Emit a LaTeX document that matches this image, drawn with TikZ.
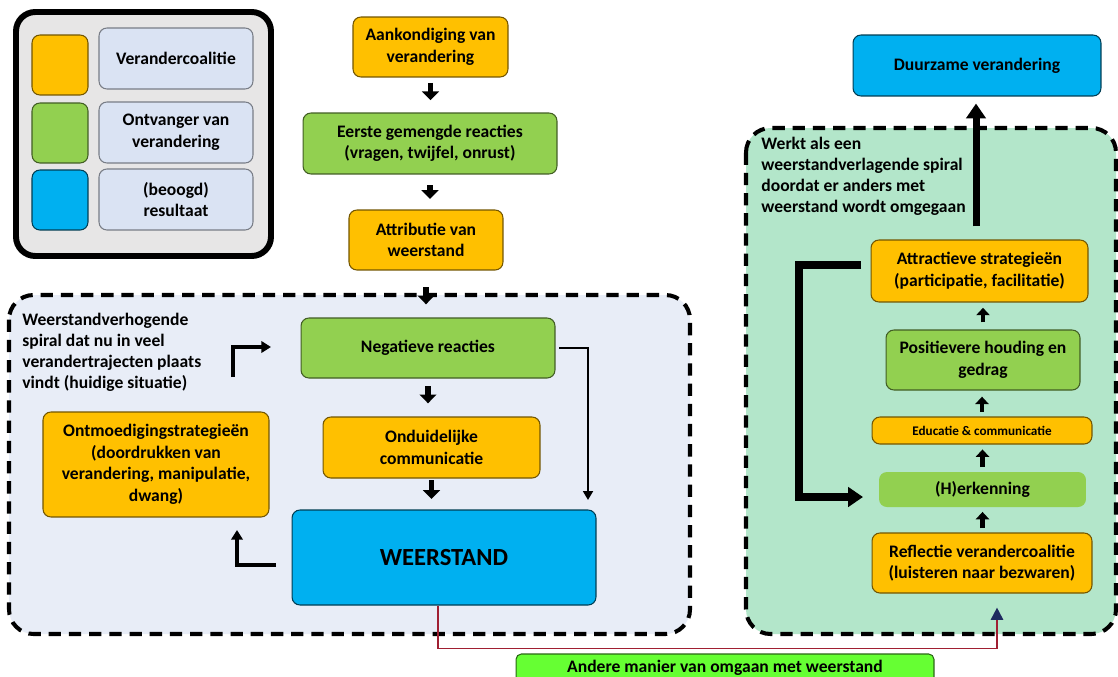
\documentclass[tikz,border=0pt]{standalone}
\usepackage{fontspec}
\setmainfont{Carlito}
\usetikzlibrary{arrows.meta,calc}
\definecolor{oranje}{HTML}{FFC000}
\definecolor{groen}{HTML}{92D050}
\definecolor{blauw}{HTML}{00B0F0}
\definecolor{legblauw}{HTML}{DAE3F3}
\definecolor{leggrijs}{HTML}{E7E6E6}
\definecolor{vlakblauw}{HTML}{E8EDF7}
\definecolor{vlakgroen}{HTML}{B3E6CA}
\definecolor{felgroen}{HTML}{66FF33}
\definecolor{donkerrood}{HTML}{A01F32}
\definecolor{marine}{HTML}{1F2A60}
\tikzset{
    box/.style={draw, rounded corners=4.5pt, line width=0.6pt, align=center, inner sep=2pt,
        font=\bfseries\fontsize{10}{12.3}\selectfont},
    oranjebox/.style={box, fill=oranje, draw=oranje!45!black},
    groenbox/.style={box, fill=groen, draw=groen!45!black},
    blauwbox/.style={box, fill=blauw, draw=blauw!35!black},
    legbox/.style={box, fill=legblauw, draw=legblauw!55!black},
    vlak/.style={line width=2.3pt, dash pattern=on 7pt off 4.5pt, rounded corners=14pt},
    vlaktekst/.style={anchor=north west, align=left, inner sep=0pt,
        font=\bfseries\fontsize{10}{12}\selectfont},
    blokpijl/.style={line width=3.4pt, -{Triangle[width=9.5pt,length=5pt]}},
    kleinpijl/.style={line width=2.8pt, -{Triangle[width=7.5pt,length=4.2pt]}},
    hoekpijl/.style={line width=2.5pt, -{Triangle[width=6.5pt,length=5.5pt]}},
    dunpijl/.style={line width=1.3pt, -{Triangle[width=5.5pt,length=5pt]}},
    dikpijl/.style={line width=4pt, -{Triangle[width=11pt,length=8.5pt]}},
    roodlijn/.style={line width=1.1pt, donkerrood, -{Triangle[width=7pt,length=7pt,color=marine]}}
}
\begin{document}
\begin{tikzpicture}[x=0.02cm,y=-0.02cm]
        \useasboundingbox (0,0) rectangle (1118,676);
        \clip (0,0) rectangle (1118,676);
        \draw[line width=3.4pt, rounded corners=11pt, fill=leggrijs] (16,12) rectangle (271,256);
        \draw[vlak, fill=vlakblauw] (9,295) rectangle (690,634);
        \draw[vlak, fill=vlakgroen] (746,128) rectangle (1116,634);

        \node[oranjebox, minimum width=1.12cm, minimum height=1.2cm] (legor) at (60,65) {};
        \node[groenbox, minimum width=1.12cm, minimum height=1.2cm] (leggr) at (60,133) {};
        \node[blauwbox, minimum width=1.12cm, minimum height=1.2cm] (legbl) at (60,200) {};
        \node[legbox, minimum width=3.08cm, minimum height=1.22cm] (legt1) at (176,58.5) {Verandercoalitie};
        \node[legbox, minimum width=3.08cm, minimum height=1.22cm] (legt2) at (176,132.5) {Ontvanger van\\verandering};
        \node[legbox, minimum width=3.08cm, minimum height=1.22cm] (legt3) at (176,199.5) {(beoogd)\\resultaat};

        \node[oranjebox, minimum width=3.1cm, minimum height=1.2cm] (aank) at (430.5,47) {Aankondiging van\\verandering};
        \node[groenbox, minimum width=5.08cm, minimum height=1.22cm] (eerste) at (430,143.5) {Eerste gemengde reacties\\(vragen, twijfel, onrust)};
        \node[oranjebox, minimum width=3.08cm, minimum height=1.2cm] (attr) at (426,240) {Attributie van\\weerstand};

        \node[vlaktekst] (tekstlinks) at (22,313) {Weerstandverhogende\\spiral dat nu in veel\\verandertrajecten plaats\\vindt (huidige situatie)};
        \node[groenbox, minimum width=5.08cm, minimum height=1.2cm] (neg) at (428,348) {Negatieve reacties};
        \node[oranjebox, minimum width=4.34cm, minimum height=1.22cm] (ond) at (431.5,447.5) {Onduidelijke\\communicatie};
        \node[blauwbox, minimum width=6.08cm, minimum height=1.9cm, font=\bfseries\fontsize{14}{16}\selectfont] (weer) at (444,557.5) {WEERSTAND};
        \node[oranjebox, minimum width=4.52cm, minimum height=2.1cm] (ontm) at (156,464.5) {Ontmoedigingstrategieën\\(doordrukken van\\verandering, manipulatie,\\dwang)};

        \node[blauwbox, minimum width=4.96cm, minimum height=1.22cm] (duur) at (977,65.5) {Duurzame verandering};
        \node[vlaktekst] (tekstrechts) at (761,137) {Werkt als een\\weerstandverlagende spiral\\doordat er anders met\\weerstand wordt omgegaan};
        \node[oranjebox, minimum width=4.34cm, minimum height=1.24cm] (attr2) at (979.5,271) {Attractieve strategieën\\(participatie, facilitatie)};
        \node[groenbox, minimum width=3.88cm, minimum height=1.2cm] (pos) at (983,360) {Positievere houding en\\gedrag};
        \node[oranjebox, minimum width=4.4cm, minimum height=0.54cm, font=\bfseries\fontsize{7.5}{9}\selectfont] (edu) at (982,430.5) {Educatie \& communicatie};
        \node[groenbox, draw=none, minimum width=4.14cm, minimum height=0.7cm] (herk) at (982.5,489.5) {(H)erkenning};
        \node[oranjebox, minimum width=4.4cm, minimum height=1.2cm] (refl) at (982,563) {Reflectie verandercoalitie\\(luisteren naar bezwaren)};
        \node[box, fill=felgroen, draw=felgroen!40!black, rounded corners=3pt, minimum width=8.36cm, minimum height=0.56cm] (andere) at (725,668) {Andere manier van omgaan met weerstand};

        \draw[blokpijl, shorten <=3pt, shorten >=7pt] (aank.south) -- (aank.south |- eerste.north);
        \draw[blokpijl, shorten <=6pt, shorten >=6pt] (eerste.south) -- (eerste.south |- attr.north);
        \draw[blokpijl, shorten <=9.5pt, shorten >=7.5pt] (attr.south) -- (attr.south |- neg.north);
        \draw[blokpijl, shorten <=4.5pt, shorten >=7.5pt] (neg.south) -- (neg.south |- ond.north);
        \draw[blokpijl, shorten <=1pt, shorten >=6pt] (ond.south) -- (ond.south |- weer.north);

        \coordinate (o1) at (233,377);
        \coordinate (n1) at (271,347);
        \draw[hoekpijl] (o1) |- (n1);
        \coordinate (w1) at (276,565);
        \coordinate (o2) at (237,530);
        \draw[hoekpijl] (w1) -| (o2);
        \coordinate (w2) at (588,500);
        \draw[dunpijl, shorten <=2pt] (neg.east) -| (w2);

        \draw[kleinpijl, shorten <=2.5pt, shorten >=2.5pt] (refl.north -| herk.south) -- (herk.south);
        \draw[kleinpijl, shorten <=2.5pt, shorten >=2.8pt] (herk.north) -- (herk.north |- edu.south);
        \draw[kleinpijl, shorten <=2.8pt, shorten >=3.5pt] (edu.north) -- (edu.north |- pos.south);
        \draw[kleinpijl, shorten <=4pt, shorten >=3pt] (pos.north) -- (pos.north |- attr2.south);
        \draw[dikpijl, shorten <=7.5pt, shorten >=4pt] (attr2.north -| 976,0) -- (duur.south -| 976,0);

        \coordinate (k1) at (861,265);
        \coordinate (k2) at (863,497);
        \draw[dikpijl] (k1) -- ++(-62,0) |- (k2);

        \draw[roodlijn, shorten >=8pt] ($(weer.south)+(-6,0)$) -- ++(0,43) -| ($(refl.south)+(15,0)$);
    \end{tikzpicture}
\end{document}
